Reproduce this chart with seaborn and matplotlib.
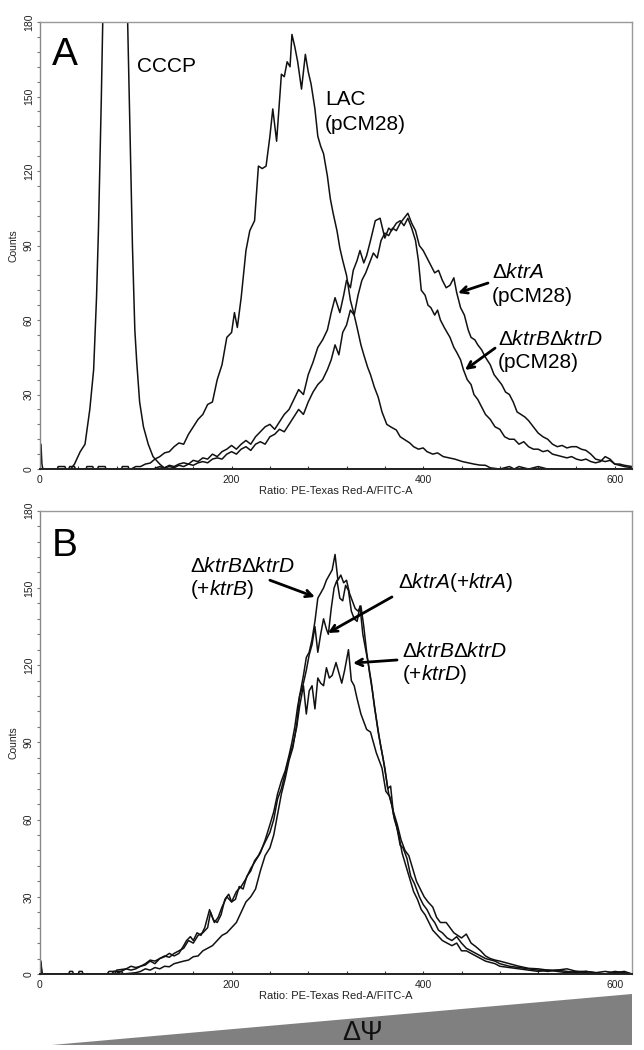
import numpy as np
import matplotlib
matplotlib.use("Agg")
import matplotlib.pyplot as plt
import seaborn as sns
from matplotlib.ticker import MultipleLocator
from matplotlib.patches import Polygon

sns.set_style("ticks")
plt.rcParams["font.family"] = ["Liberation Sans", "DejaVu Sans"]
plt.rcParams["mathtext.fontset"] = "custom"
plt.rcParams["mathtext.rm"] = "Liberation Sans"
plt.rcParams["mathtext.it"] = "Liberation Sans:italic"
plt.rcParams["text.color"] = "black"
plt.rcParams["axes.labelcolor"] = "black"

# ---- panel A data ----
cccp_x = [0, 1, 2, 3, 8, 18, 19, 26, 27, 32, 36, 42, 47, 52, 56, 59, 61, 64, 65.5, 91.5, 94, 96.5, 99, 101, 104, 108, 113, 118, 125, 131, 618]
cccp_y = [0, 10, 2, 0, 0, 0, 1, 1, 0, 0, 2, 7, 10, 24, 40, 69, 96, 149, 180, 180, 135, 90, 56, 43, 27, 17, 10, 5, 2, 0, 0]

lac_x = [0, 48, 49, 55, 56, 95, 100, 105, 110, 115, 120, 125, 130, 135, 140, 145, 150, 155, 160, 165, 170, 175,
         180, 185, 190, 195, 200, 203, 206, 210, 215, 219, 224, 228, 232, 236, 240, 243, 247, 252, 255, 258, 261,
         263, 266, 269, 273, 277, 280, 283, 287, 290, 293, 296, 300, 303, 306, 310, 313, 316, 320, 324, 328, 331,
         335, 338, 342, 345, 349, 353, 357, 362, 366, 372, 376, 380, 386, 390, 395, 400, 404, 410, 415, 421, 427,
         433, 441, 447, 453, 459, 465, 470, 480, 490, 495, 500, 510, 520, 530, 618]
lac_y = [0, 0, 1, 1, 0, 0, 1, 1, 2, 2.4, 4, 5, 6.5, 7, 9, 10.5, 10, 14, 17, 20, 22, 26,
         27, 36, 42, 53, 55, 63, 57, 69, 88, 96, 100, 122, 121, 122, 134, 145, 132, 159, 158, 164, 162,
         175, 170, 164, 153, 167, 160, 155, 145, 134, 130, 127, 118, 109, 103, 96, 89, 84, 78, 68, 62, 57,
         50, 46, 41, 38, 33, 29, 23, 18, 17, 15.7, 13, 12, 10.5, 9, 8, 8.5, 7, 6, 6.5, 5, 4.5,
         4, 3, 2.5, 2, 1.6, 1.5, 0.5, 0, 1, 0, 1, 0, 1, 0, 0]

ktra_a_x = [0, 30, 31, 36, 37, 120, 130, 135, 140, 145, 150, 155, 160, 165, 170, 175, 180, 185, 190, 195, 200,
            205, 210, 215, 220, 225, 230, 235, 240, 245, 250, 255, 260, 265, 270, 275, 280, 285, 290, 295, 300,
            304, 308, 312, 316, 320, 324, 328, 332, 336, 340, 344, 348, 352, 356, 360, 364, 368, 372, 376, 380,
            384, 388, 392, 396, 400, 404, 408, 412, 416, 420, 424, 428, 432, 435, 439, 443, 447, 450, 454, 457,
            461, 465, 470, 474, 478, 482, 486, 490, 494, 498, 502, 506, 510, 515, 520, 525, 530, 535, 540, 545,
            550, 555, 560, 565, 570, 575, 580, 585, 590, 595, 600, 605, 610, 618]
ktra_a_y = [0, 0, 1, 1, 0, 0, 0.5, 1, 0.5, 1.5, 1, 2, 1.5, 2.5, 3, 2.5, 4, 4.5, 4, 6, 7,
            6, 8, 9, 7.5, 10, 11, 10, 13, 14, 16, 15, 18, 21, 24, 22, 27, 31, 34, 36, 40,
            44, 50, 46, 55, 58, 64, 62, 70, 76, 79, 83, 87, 85, 92, 95, 94, 97, 96, 99, 101,
            103, 99, 96, 90, 88, 85, 82, 79, 80, 76, 73, 74, 77, 71, 65, 62, 56, 53, 52, 50,
            48, 45, 42, 38, 36, 34, 31, 30, 27, 23, 22, 21, 19.5, 17, 14.5, 13, 12, 10, 9, 9.5,
            8.5, 9, 9, 8, 7.5, 6, 4, 3.5, 3, 3.5, 2, 2, 1.5, 1]

ktrbd_a_x = [0, 60, 61, 68, 69, 85, 86, 92, 93, 118, 125, 130, 135, 140, 145, 150, 155, 160, 165, 170, 175,
             180, 185, 190, 195, 200, 205, 210, 215, 220, 225, 230, 235, 240, 245, 250, 255, 260, 265, 270,
             275, 280, 285, 290, 295, 300, 304, 308, 313, 317, 320, 324, 327, 331, 334, 338, 341, 345, 350,
             355, 360, 364, 367, 372, 376, 380, 384, 388, 392, 395, 398, 402, 405, 408, 412, 415, 418, 422,
             425, 428, 432, 435, 439, 442, 446, 450, 453, 457, 461, 465, 470, 475, 480, 485, 490, 495, 500,
             505, 510, 515, 520, 525, 530, 535, 540, 545, 550, 555, 560, 565, 570, 575, 580, 585, 590, 595,
             600, 605, 610, 618]
ktrbd_a_y = [0, 0, 1, 1, 0, 0, 1, 1, 0, 0, 1, 0.5, 1.5, 1, 2, 2.5, 2, 3.5, 3, 4.5, 4,
             6, 5, 7, 8, 9.5, 8, 10, 11.5, 10, 13, 15, 17, 18, 16, 19, 22, 24, 28, 32,
             30, 38, 43, 49, 52, 56, 63, 69, 63, 70, 76, 73, 80, 84, 88, 83, 86, 92, 100,
             101, 93, 97, 96, 99, 100, 98, 101, 97, 92, 84, 72, 70, 66, 65, 62, 64, 60, 57,
             55, 53, 49, 47, 44, 40, 36, 34, 30, 28, 25, 22, 20, 17, 16, 13, 12, 12, 10,
             11, 9, 8, 8, 7, 7.5, 6, 5.5, 5, 4.5, 5, 4, 3.5, 4, 3, 2.5, 3, 5, 4,
             2, 1.5, 1, 0.5]

# ---- panel B data ----
ktrb_b_x = [0, 1, 2, 40, 41, 44, 45, 70, 72, 80, 82, 90, 95, 100, 105, 110, 115, 120, 125, 130, 135, 140,
            145, 150, 155, 160, 165, 170, 175, 178, 182, 186, 190, 195, 200, 205, 210, 215, 220, 225, 230,
            235, 240, 244, 248, 252, 256, 260, 263, 266, 269, 272, 275, 278, 281, 284, 287, 290, 293, 296,
            299, 302, 305, 308, 311, 314, 317, 320, 323, 326, 329, 332, 335, 338, 341, 344, 347, 350, 353,
            356, 360, 363, 366, 369, 372, 376, 379, 383, 387, 391, 396, 400, 404, 408, 412, 416, 420, 425,
            430, 435, 440, 445, 450, 455, 460, 465, 470, 475, 480, 490, 500, 510, 520, 530, 540, 550, 560,
            570, 580, 590, 600, 610, 618]
ktrb_b_y = [0, 4, 0, 0, 1, 1, 0, 0, 1, 1, 0.5, 2, 1.5, 2, 3, 3.5, 5, 4, 6, 7, 6.5, 8,
            9, 10, 13, 12, 15, 16, 18, 24, 20, 22, 26, 30, 28, 32, 34, 37, 41, 44, 47,
            52, 58, 63, 70, 75, 79, 85, 90, 96, 104, 110, 116, 123, 125, 130, 137, 146, 148, 150,
            153, 155, 157, 163, 153, 155, 152, 153, 148, 145, 142, 141, 143, 135, 125, 117, 110, 102, 94,
            88, 80, 72, 73, 62, 58, 50, 49, 45, 38, 35, 30, 27, 25, 22, 20, 17, 16, 14,
            13, 14.5, 12, 10, 9, 8, 7, 6, 5.5, 5, 4, 3, 2.5, 2, 1.5, 1, 1.5, 1, 0.5,
            1, 0.5, 0, 1, 0.5, 0]

ktra_b_x = [0, 1, 2, 75, 77, 85, 87, 100, 105, 110, 115, 120, 125, 130, 135, 140, 145, 150, 155, 160, 165,
            170, 175, 180, 185, 190, 195, 200, 205, 210, 215, 220, 225, 230, 235, 240, 244, 248, 252, 256,
            260, 264, 268, 271, 275, 278, 281, 284, 287, 290, 293, 296, 299, 301, 304, 307, 310, 313, 316,
            319, 322, 325, 328, 331, 334, 337, 340, 343, 346, 349, 352, 355, 358, 361, 364, 367, 370, 374,
            378, 382, 386, 390, 394, 398, 402, 406, 410, 415, 420, 425, 430, 435, 440, 445, 450, 455, 460,
            465, 470, 475, 480, 490, 500, 510, 520, 530, 540, 550, 560, 570, 580, 618]
ktra_b_y = [0, 5, 0, 0, 1, 1, 0, 0.5, 1, 2, 1.5, 2.5, 2, 3, 2.8, 4, 4.5, 5, 5.4, 6.7, 7,
            9, 10, 11, 13, 15, 16, 18, 20, 24, 28, 30, 33, 40, 46, 49, 54, 62, 70, 76,
            83, 88, 97, 108, 113, 118, 124, 128, 135, 125, 132, 138, 134, 132, 142, 150, 153, 146, 145,
            151, 149, 141, 138, 137, 143, 132, 126, 120, 113, 104, 97, 90, 84, 77, 70, 66, 60, 55,
            47, 42, 37, 32, 29, 25, 23, 20, 17, 15, 13, 12, 11, 12, 9, 9, 8, 7, 6,
            5, 4.5, 4, 3, 2.5, 2, 1.5, 1, 1.5, 1, 0.5, 1, 0.5, 0, 0]

ktrd_b_x = [0, 1, 2, 30, 31, 34, 35, 78, 80, 90, 95, 100, 105, 110, 115, 120, 125, 130, 135, 140, 145, 150,
            153, 157, 160, 164, 168, 172, 177, 181, 185, 189, 193, 197, 200, 204, 208, 212, 216, 220, 224,
            228, 232, 236, 240, 244, 248, 252, 256, 260, 264, 268, 271, 275, 278, 281, 284, 287, 290, 293,
            296, 299, 302, 305, 309, 312, 315, 318, 322, 325, 328, 331, 335, 338, 341, 345, 348, 351, 354,
            357, 361, 365, 369, 373, 377, 381, 385, 389, 393, 397, 401, 405, 410, 414, 418, 424, 428, 432,
            436, 440, 445, 450, 455, 460, 465, 470, 475, 480, 490, 500, 510, 520, 530, 540, 550, 560, 570,
            580, 590, 600, 610, 618]
ktrd_b_y = [0, 3, 0, 0, 1, 1, 0, 0, 1.5, 2, 3, 2.5, 3, 4, 5.4, 5, 6, 6.7, 8, 7, 8, 11,
            13, 14.5, 13, 16, 15, 18, 25, 21, 20, 23, 29, 31, 28, 29, 34, 33, 38, 40, 44,
            46, 49, 52, 55, 60, 68, 72, 78, 84, 89, 96, 104, 112, 101, 110, 112, 103, 115, 113,
            112, 119, 115, 116, 121, 117, 113, 118, 126, 114, 112, 107, 101, 98, 95, 94, 90, 86, 83,
            80, 71, 69, 63, 58, 52, 48, 46, 41, 36, 33, 30, 28, 26, 22, 20, 20, 18, 16,
            15, 14, 15.5, 12, 10.6, 9, 7, 6, 5.4, 5, 4, 3, 2.2, 2, 1.5, 1.5, 2, 1, 1,
            0.5, 1, 0.5, 1, 0]

line_kw = dict(color="#111111", linewidth=1.1, estimator=None)

fig = plt.figure(figsize=(6.44, 10.5), dpi=100)
axA = fig.add_axes([0.0621, 0.5533, 0.9193, 0.4257])
axB = fig.add_axes([0.0621, 0.0724, 0.9193, 0.4412])

for xs, ys in [(cccp_x, cccp_y), (lac_x, lac_y), (ktra_a_x, ktra_a_y), (ktrbd_a_x, ktrbd_a_y)]:
    sns.lineplot(x=xs, y=ys, ax=axA, **line_kw)
for xs, ys in [(ktrb_b_x, ktrb_b_y), (ktra_b_x, ktra_b_y), (ktrd_b_x, ktrd_b_y)]:
    sns.lineplot(x=xs, y=ys, ax=axB, **line_kw)

for ax in (axA, axB):
    ax.set_xlim(0, 618)
    ax.set_ylim(0, 180)
    ax.set_xticks([0, 200, 400, 600])
    ax.set_yticks([0, 30, 60, 90, 120, 150, 180])
    ax.xaxis.set_minor_locator(MultipleLocator(40))
    ax.yaxis.set_minor_locator(MultipleLocator(6))
    ax.tick_params(axis="x", which="both", direction="in", length=2.5, width=0.8,
                   labelsize=7.5, pad=4, colors="#333333", labelcolor="#222222")
    ax.tick_params(axis="y", which="both", direction="out", length=2.5, width=0.8,
                   labelsize=7.5, pad=2, colors="#777777", labelcolor="#222222")
    for lab in ax.get_yticklabels():
        lab.set_rotation(90)
        lab.set_va("center")
    ax.set_xlabel("Ratio: PE-Texas Red-A/FITC-A", fontsize=8, labelpad=1, color="#222222")
    ax.set_ylabel("Counts", fontsize=7.5, labelpad=4, color="#222222")
    ax.spines["left"].set_color("#888888")
    ax.spines["top"].set_color("#999999")
    ax.spines["right"].set_color("#999999")
    ax.spines["bottom"].set_color("#222222")
    ax.spines["bottom"].set_linewidth(1.4)
    for s in ("left", "top", "right"):
        ax.spines[s].set_linewidth(1.0)

lab_fs = 15
arrow = dict(arrowstyle="->", lw=2.0, color="black", mutation_scale=12, shrinkA=0, shrinkB=0)

# panel A labels
axA.text(0.02, 0.904, "A", transform=axA.transAxes, fontsize=28)
axA.text(101, 159.9, "CCCP", fontsize=lab_fs)
axA.text(297.5, 146.6, "LAC", fontsize=lab_fs)
axA.text(297.5, 136.5, "(pCM28)", fontsize=lab_fs)
axA.text(471.8, 76.9, r"$\Delta\mathit{ktrA}$", fontsize=lab_fs)
axA.text(471.8, 67.3, "(pCM28)", fontsize=lab_fs)
axA.annotate("", xy=(436.3, 70.9), xytext=(467.6, 74.9), arrowprops=arrow)
axA.text(478, 49.9, r"$\Delta\mathit{ktrB}\Delta\mathit{ktrD}$", fontsize=lab_fs)
axA.text(478, 40.7, "(pCM28)", fontsize=lab_fs)
axA.annotate("", xy=(443.6, 39.9), xytext=(475, 48.7), arrowprops=arrow)

# panel B labels
axB.text(0.02, 0.902, "B", transform=axB.transAxes, fontsize=28)
axB.text(156.6, 156.2, r"$\Delta\mathit{ktrB}\Delta\mathit{ktrD}$", fontsize=lab_fs)
axB.text(156.6, 147.2, r"(+$\mathit{ktrB}$)", fontsize=lab_fs)
axB.annotate("", xy=(287, 146.5), xytext=(240, 153), arrowprops=arrow)
axB.text(373.7, 150, r"$\Delta\mathit{ktrA}$(+$\mathit{ktrA}$)", fontsize=lab_fs)
axB.annotate("", xy=(300.6, 132.5), xytext=(367.4, 146.5), arrowprops=arrow)
axB.text(377.9, 123.2, r"$\Delta\mathit{ktrB}\Delta\mathit{ktrD}$", fontsize=lab_fs)
axB.text(377.9, 114.2, r"(+$\mathit{ktrD}$)", fontsize=lab_fs)
axB.annotate("", xy=(326.7, 120.8), xytext=(372.7, 122), arrowprops=arrow)

# membrane potential wedge under the plots
wedge = Polygon([(52 / 644, 0.0048), (632 / 644, 1 - 994 / 1050), (632 / 644, 0.0048)],
                closed=True, transform=fig.transFigure, facecolor="#808080", edgecolor="none")
fig.patches.append(wedge)
fig.text(363 / 644, 1 - 1040 / 1050, "ΔΨ", ha="center", va="baseline", fontsize=19.5, color="#111111")

fig.savefig("out.png", dpi=100)
